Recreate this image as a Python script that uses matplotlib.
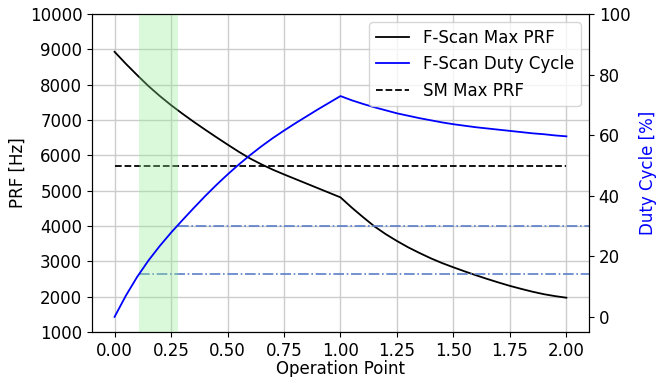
import matplotlib
matplotlib.use('Agg')
import numpy as np
import matplotlib.pyplot as plt

plt.rcParams.update({'font.size': 12})

# operation point grid
op_point = [0.0, 0.05, 0.1, 0.15, 0.2, 0.25, 0.3, 0.35, 0.4, 0.45, 0.5,
            0.55, 0.6, 0.65, 0.7, 0.75, 0.8, 0.85, 0.9, 0.95, 1.0,
            1.05, 1.1, 1.15, 1.2, 1.25, 1.3, 1.35, 1.4, 1.45, 1.5,
            1.55, 1.6, 1.65, 1.7, 1.75, 1.8, 1.85, 1.9, 1.95, 2.0]

fscan_prf = [8930, 8590, 8270, 7960, 7680, 7420, 7180, 6950, 6730, 6515, 6305,
             6100, 5910, 5745, 5595, 5460, 5330, 5200, 5070, 4940, 4810,
             4520, 4250, 3990, 3770, 3575, 3395, 3235, 3085, 2950, 2830,
             2715, 2605, 2500, 2400, 2305, 2220, 2140, 2070, 2015, 1970]

fscan_duty = [0.0, 7.0, 13.2, 18.6, 23.4, 27.8, 31.9, 35.9, 39.8, 43.5, 47.0,
              50.3, 53.4, 56.3, 59.0, 61.5, 63.9, 66.2, 68.5, 70.7, 72.9,
              71.5, 70.3, 69.2, 68.2, 67.2, 66.4, 65.6, 64.9, 64.2, 63.6,
              63.1, 62.6, 62.2, 61.8, 61.4, 61.0, 60.6, 60.3, 59.9, 59.6]

sm_max_prf = 5700
sm_x = [0.0, 2.0]

# operating window
win_lo, win_hi = 0.11, 0.28
prf_lo, prf_hi = 2655, 4000

fig = plt.figure(figsize=(6.68, 3.77), dpi=100)
ax = fig.add_axes([0.1377, 0.1194, 0.744, 0.8435])
ax2 = ax.twinx()

l1, = ax.plot(op_point, fscan_prf, color='k', lw=1.3, label='F-Scan Max PRF')
l3, = ax.plot(sm_x, [sm_max_prf, sm_max_prf], 'k--', lw=1.3, label='SM Max PRF')
ax.hlines(prf_hi, win_hi, 2.1, colors='#5b7fc8', linestyles='-.', lw=1.2)
ax.hlines(prf_lo, win_lo, 2.1, colors='#5b7fc8', linestyles='-.', lw=1.2)

l2, = ax2.plot(op_point, fscan_duty, color='b', lw=1.3, label='F-Scan Duty Cycle')
ax2.axvspan(win_lo, win_hi, color='lightgreen', alpha=0.33, lw=0)

ax.set_xlim(-0.1, 2.1)
ax.set_ylim(1000, 10000)
ax2.set_ylim(-5, 100)
ax.set_xticks(np.arange(0, 2.01, 0.25))
ax.set_yticks(np.arange(1000, 10001, 1000))
ax2.set_yticks([0, 20, 40, 60, 80, 100])
ax.grid(True, color='#cccccc', lw=1)

ax.set_xlabel('Operation Point', labelpad=0)
ax.set_ylabel('PRF [Hz]', labelpad=2)
ax2.set_ylabel('Duty Cycle [%]', color='b', labelpad=6)

ax2.legend(handles=[l1, l2, l3], loc='upper right')

fig.savefig('out.png', dpi=100)
